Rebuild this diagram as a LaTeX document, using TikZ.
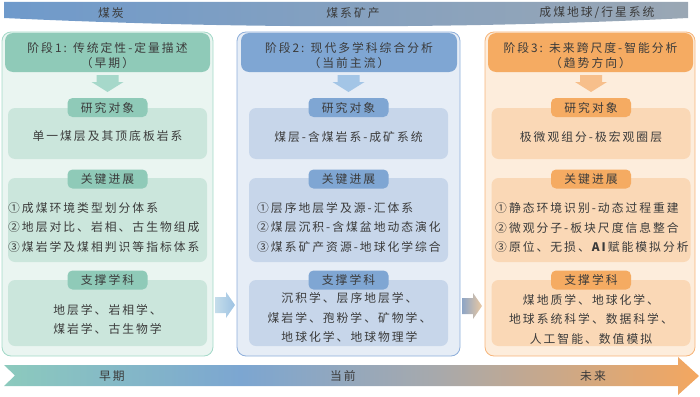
\documentclass[tikz,border=0pt]{standalone}
\usepackage{fontspec}
\setmainfont{Noto Sans CJK SC}[LetterSpace=17]
\definecolor{txt}{HTML}{3B3B3B}
\definecolor{banL}{HTML}{6F9ACB}
\definecolor{banR}{HTML}{9AA7B4}
\definecolor{p1b}{HTML}{A3D9C8}
\definecolor{p1f}{HTML}{EAF5F1}
\definecolor{p1h}{HTML}{8FCAB8}
\definecolor{p1c}{HTML}{CBE6DC}
\definecolor{p1a}{HTML}{A6D8CA}
\definecolor{p2b}{HTML}{8DAEDA}
\definecolor{p2f}{HTML}{E6EDF6}
\definecolor{p2h}{HTML}{7FA6D3}
\definecolor{p2c}{HTML}{C7D6EA}
\definecolor{p2a}{HTML}{A3C5E6}
\definecolor{p3b}{HTML}{F6B479}
\definecolor{p3f}{HTML}{FDEDDC}
\definecolor{p3h}{HTML}{F5AB62}
\definecolor{p3c}{HTML}{FAD8B6}
\definecolor{p3a}{HTML}{F7BF8B}
\definecolor{tl1}{HTML}{8CCABD}
\definecolor{tl2}{HTML}{7CA6D1}
\definecolor{tl3}{HTML}{A7A9AC}
\definecolor{tl4}{HTML}{F4A75F}
\definecolor{a1L}{HTML}{C5DDEA}
\definecolor{a1R}{HTML}{9DC2E3}
\definecolor{a2L}{HTML}{8DA5C6}
\definecolor{a2R}{HTML}{EBC9A2}
\pgfdeclarehorizontalshading{timeline}{100bp}{color(0bp)=(tl1); color(25bp)=(tl1); color(42bp)=(tl2); color(56bp)=(tl3); color(75bp)=(tl4); color(100bp)=(tl4)}
\begin{document}
\begin{tikzpicture}[x=1pt,y=-1pt,
  font=\fontsize{11.8}{15}\selectfont, text=txt,
  every node/.style={inner sep=0pt},
  panel/.style={draw, line width=0.8pt, rounded corners=9pt},
  header/.style={rounded corners=8pt, minimum height=39pt},
  content/.style={rounded corners=7pt, minimum width=199pt},
  label/.style={rounded corners=5pt, minimum width=80pt, minimum height=19pt},
  item/.style={anchor=west},
  multi/.style={align=center, font=\fontsize{11.8}{19.5}\selectfont},
  darrow/.pic={\path[pic actions] (-11,0) -- (11,0) -- (11,7) -- (16,7) -- (0,17) -- (-16,7) -- (-11,7) -- cycle;},
  rarrow/.pic={\path[pic actions] (0,-8) -- (11,-8) -- (11,-13) -- (20,0) -- (11,13) -- (11,8) -- (0,8) -- cycle;}
]
\useasboundingbox (0,0) rectangle (700,396);

% top banner
\shade[left color=banL, right color=banR] (4,2) -- (688,2) -- (688,18) .. controls (460,29) and (240,29) .. (4,18) -- cycle;
\node (b1) at (111,13) {煤炭};
\node (b2) at (353,13) {煤系矿产};
\node (b3) at (597,13) {成煤地球/行星系统};

% panels
\node[panel, draw=p1b, fill=p1f, minimum width=211pt, minimum height=324pt] (p1) at (107.5,194) {};
\node[panel, draw=p2b, fill=p2f, minimum width=223pt, minimum height=324pt] (p2) at (348.5,194) {};
\node[panel, draw=p3b, fill=p3f, minimum width=210pt, minimum height=324pt] (p3) at (590,194) {};

% headers
\node[header, fill=p1h, minimum width=205pt] (h1) at (107.5,52.5) {};
\node[header, fill=p2h, minimum width=216pt] (h2) at (349,52.5) {};
\node[header, fill=p3h, minimum width=205pt] (h3) at (590.5,52.5) {};
\node[align=center] (h1t) at (107.5,55.5) {阶段1: 传统定性-定量描述\\（早期）};
\node[align=center] (h2t) at (349,55.5) {阶段2: 现代多学科综合分析\\（当前主流）};
\node[align=center] (h3t) at (590.5,55.5) {阶段3: 未来跨尺度-智能分析\\（趋势方向）};

% down arrows
\pic[fill=p1a] at (107.5,75) {darrow};
\pic[fill=p2a] at (348.5,75) {darrow};
\pic[fill=p3a] at (591,75) {darrow};

% content boxes
\foreach \cx/\c/\n in {107.5/p1c/1, 348.5/p2c/2, 591/p3c/3}{
  \node[content, fill=\c, minimum height=51pt] (ca\n) at (\cx,133.5) {};
  \node[content, fill=\c, minimum height=84pt] (cb\n) at (\cx,220) {};
  \node[content, fill=\c, minimum height=66pt] (cc\n) at (\cx,313) {};
}
\foreach \cx/\c/\n in {107.5/p1h/1, 348.5/p2h/2, 591/p3h/3}{
  \node[label, fill=\c] (la\n) at (\cx,107.5) {研究对象};
  \node[label, fill=\c] (lb\n) at (\cx,179) {关键进展};
  \node[label, fill=\c] (lc\n) at (\cx,280) {支撑学科};
}

% panel 1 texts
\node (t1a) at (107.5,136) {单一煤层及其顶底板岩系};
\node[item] (t1b1) at (8,208) {①成煤环境类型划分体系};
\node[item] (t1b2) at (8,227.5) {②地层对比、岩相、古生物组成};
\node[item] (t1b3) at (8,247) {③煤岩学及煤相判识等指标体系};
\node[multi] (t1c) at (107.5,319.5) {地层学、岩相学、\\煤岩学、古生物学};

% panel 2 texts
\node (t2a) at (348.5,137) {煤层-含煤岩系-成矿系统};
\node[item] (t2b1) at (257,208) {①层序地层学及源-汇体系};
\node[item] (t2b2) at (257,227.5) {②煤层沉积-含煤盆地动态演化};
\node[item] (t2b3) at (257,247) {③煤系矿产资源-地球化学综合};
\node[multi] (t2c) at (349.5,317.5) {沉积学、层序地层学、\\煤岩学、孢粉学、矿物学、\\地球化学、地球物理学};

% panel 3 texts
\node (t3a) at (591,137) {极微观组分-极宏观圈层};
\node[item] (t3b1) at (495,208) {①静态环境识别-动态过程重建};
\node[item] (t3b2) at (495,227.5) {②微观分子-板块尺度信息整合};
\node[item] (t3b3) at (495,247) {③原位、无损、\textbf{AI}赋能模拟分析};
\node[multi] (t3c) at (591,319) {煤地质学、地球化学、\\地球系统科学、数据科学、\\人工智能、数值模拟};

% arrows between panels
\pic[left color=a1L, right color=a1R] at (215,305) {rarrow};
\pic[left color=a2L, right color=a2R] at (462,306) {rarrow};

% bottom timeline
\shade[shading=timeline] (4,365) -- (678,365) -- (678,357) -- (699,376) -- (678,395) -- (678,386) -- (4,386) -- (15,375.5) -- cycle;
\node (e1) at (112,376) {早期};
\node (e2) at (343,376) {当前};
\node (e3) at (593,376) {未来};
\end{tikzpicture}
\end{document}
